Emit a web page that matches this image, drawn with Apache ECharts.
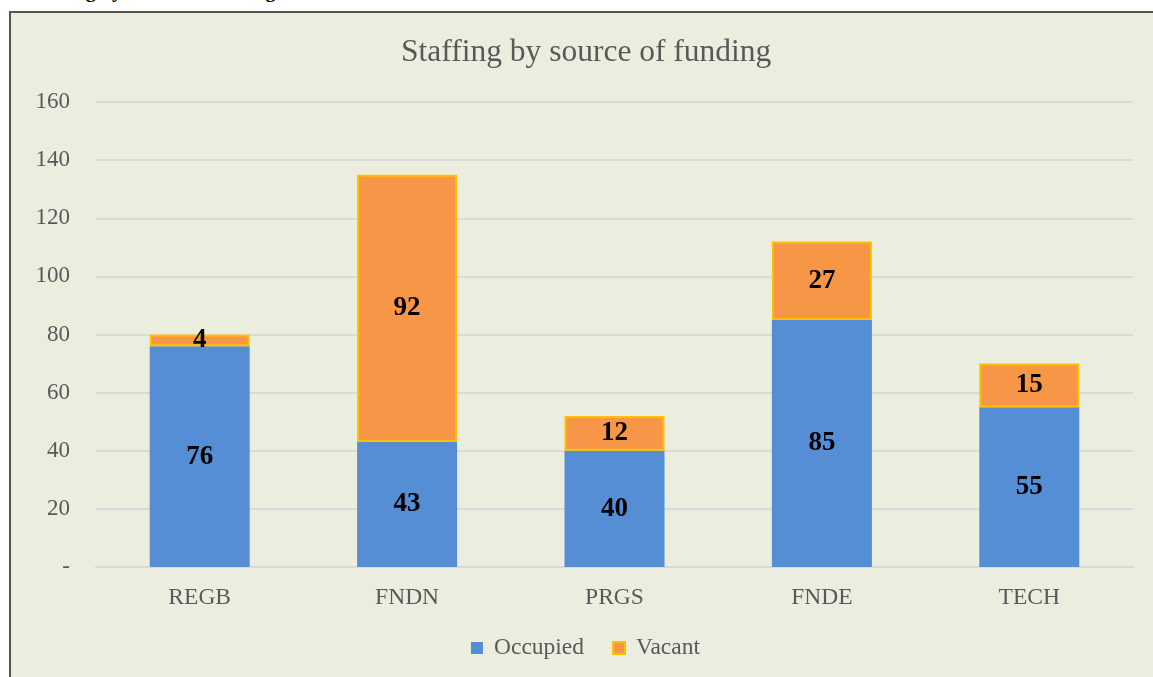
<!DOCTYPE html>
<html>
<head>
<meta charset="utf-8">
<script src="https://cdn.jsdelivr.net/npm/echarts@6/dist/echarts.min.js"></script>
<style>
  html, body { margin: 0; padding: 0; background: #fff; overflow: hidden; }
  .frame {
    position: absolute; left: 9px; top: 11px; width: 1160px; height: 700px;
    border: 2px solid #555; background: #EBEEDE;
  }
  .caption {
    position: absolute; left: 28px; top: -21px; line-height: 20px;
    font: bold 20px "Liberation Serif", "Times New Roman", serif; color: #000;
  }
  #chart { position: absolute; left: 0; top: 0; width: 1153px; height: 677px; }
</style>
</head>
<body>
<div class="caption">Staffing by source of funding</div>
<div class="frame"></div>
<div id="chart"></div>
<script>
// 类目和数据
const categories = ['REGB', 'FNDN', 'PRGS', 'FNDE', 'TECH']
const occupied = [76, 43, 40, 85, 55] // 在岗
const vacant = [4, 92, 12, 27, 15] // 空缺
const yTicks = { min: 0, max: 160, interval: 20 }

const serif = '"Liberation Serif", "Times New Roman", serif'
const chart = echarts.init(document.getElementById('chart'))

const labelStyle = {
  show: true,
  position: 'inside',
  color: '#000',
  fontFamily: serif,
  fontWeight: 'bold',
  fontSize: 27
}

chart.setOption({
  backgroundColor: 'transparent',
  title: {
    text: 'Staffing by source of funding',
    left: 396,
    top: 32,
    textStyle: { fontFamily: serif, fontWeight: 'normal', fontSize: 31.5, color: '#595959' }
  },
  legend: {
    bottom: 12,
    left: 466,
    itemWidth: 12,
    itemHeight: 12,
    itemGap: 28,
    icon: 'rect',
    textStyle: { fontFamily: serif, fontSize: 23.5, color: '#595959', padding: [0, 0, 0, 6] },
    data: ['Occupied', 'Vacant']
  },
  grid: { left: 96, right: 20, top: 102, bottom: 110 },
  xAxis: {
    type: 'category',
    data: categories,
    axisLine: { lineStyle: { color: '#D9D9D9', width: 2 } },
    axisTick: { show: false },
    axisLabel: { fontFamily: serif, fontSize: 23.5, color: '#595959', margin: 19 }
  },
  yAxis: {
    type: 'value',
    min: yTicks.min,
    max: yTicks.max,
    interval: yTicks.interval,
    axisLine: { show: false },
    axisTick: { show: false },
    splitLine: { lineStyle: { color: '#D9D9D9', width: 2 } },
    axisLabel: {
      fontFamily: serif, fontSize: 23, color: '#595959', margin: 26,
      formatter: v => (v === 0 ? '-' : v)
    }
  },
  series: [
    {
      name: 'Occupied',
      type: 'bar',
      stack: 'total',
      barWidth: 100,
      itemStyle: { color: '#558ED5' },
      label: labelStyle,
      data: occupied
    },
    {
      name: 'Vacant',
      type: 'bar',
      stack: 'total',
      barWidth: 100,
      itemStyle: { color: '#F79646', borderColor: '#FFC000', borderWidth: 2 },
      label: labelStyle,
      data: vacant
    }
  ]
})
</script>
</body>
</html>
